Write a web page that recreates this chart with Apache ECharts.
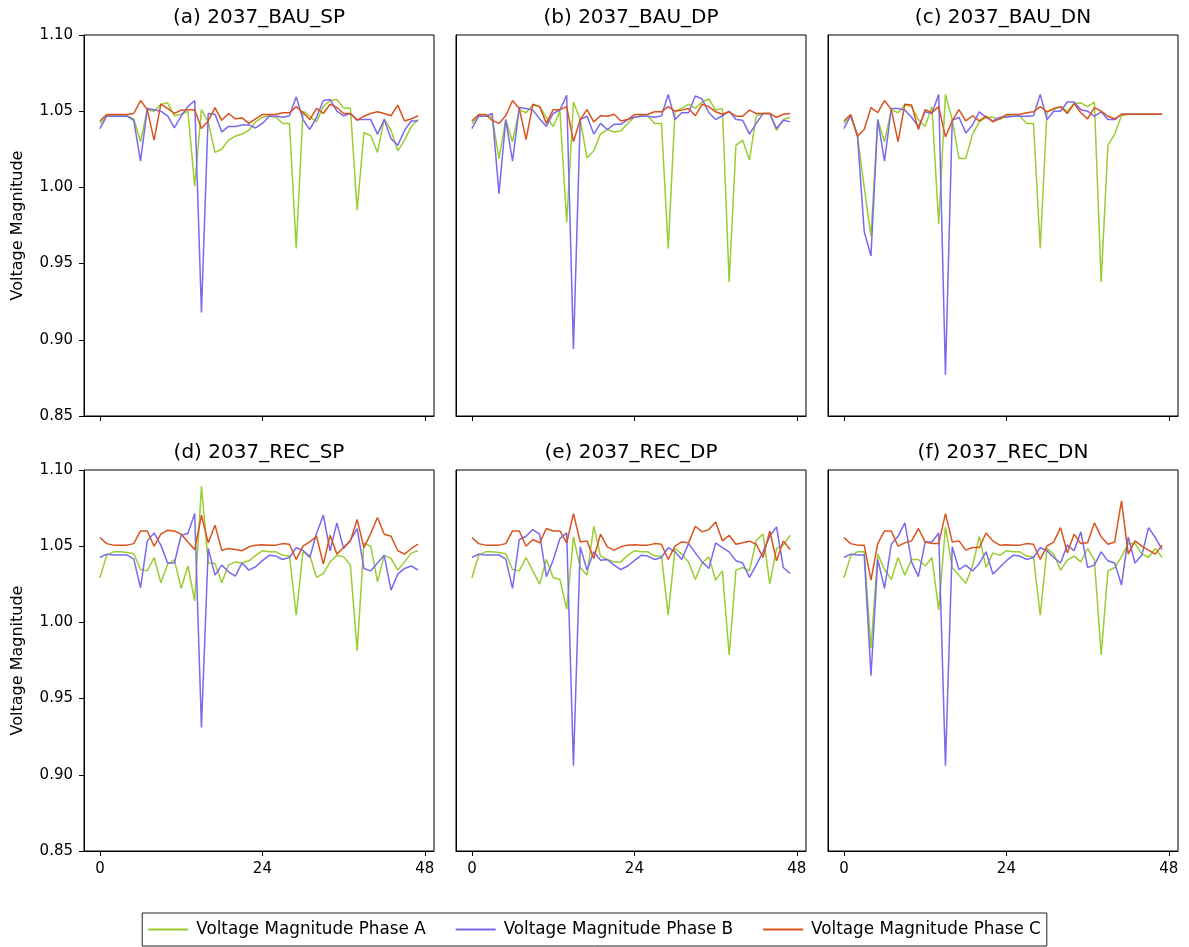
<!DOCTYPE html>
<html><head><meta charset="utf-8">
<script src="https://cdn.jsdelivr.net/npm/echarts@6/dist/echarts.min.js"></script>
<style>html,body{margin:0;padding:0;background:#fff}#c{width:1189px;height:947px}</style>
</head><body><div id="c"></div>
<script>
const panelTitles = ['(a) 2037_BAU_SP','(b) 2037_BAU_DP','(c) 2037_BAU_DN','(d) 2037_REC_SP','(e) 2037_REC_DP','(f) 2037_REC_DN'];
const seriesNames = ['Voltage Magnitude Phase A','Voltage Magnitude Phase B','Voltage Magnitude Phase C'];
const xTickValues = [0, 24, 48];
const yTickValues = [0.85, 0.90, 0.95, 1.00, 1.05, 1.10];

const a_A = [1.042,1.047,1.047,1.047,1.047,1.045,1.030,1.051,1.050,1.0546,1.0555,1.047,1.048,1.050,1.001,1.051,1.043,1.023,1.025,1.031,1.0336,1.035,1.0375,1.043,1.046,1.047,1.046,1.042,1.042,0.960,1.050,1.0467,1.043,1.053,1.057,1.0577,1.052,1.052,0.985,1.036,1.034,1.023,1.045,1.0375,1.024,1.031,1.040,1.0445];
const a_B = [1.0386,1.0467,1.0467,1.0467,1.0467,1.044,1.0173,1.0518,1.051,1.050,1.047,1.039,1.047,1.053,1.057,0.918,1.0485,1.048,1.0364,1.040,1.040,1.041,1.041,1.039,1.042,1.0467,1.0467,1.046,1.047,1.0594,1.0445,1.038,1.046,1.057,1.0577,1.050,1.047,1.0485,1.0445,1.0445,1.0445,1.035,1.0445,1.032,1.0276,1.0375,1.0436,1.0436];
const a_C = [1.0436,1.0478,1.0478,1.0478,1.0478,1.0485,1.057,1.051,1.031,1.0546,1.0518,1.0485,1.0507,1.051,1.051,1.0386,1.0436,1.0524,1.044,1.0485,1.045,1.0456,1.042,1.045,1.0478,1.0478,1.0478,1.049,1.049,1.053,1.049,1.0445,1.0518,1.0485,1.0546,1.0524,1.0485,1.0485,1.044,1.0467,1.0485,1.0496,1.0485,1.047,1.054,1.0436,1.045,1.047];

const b_A = [1.0419,1.047,1.0478,1.046,1.0189,1.0445,1.030,1.051,1.049,1.054,1.053,1.046,1.040,1.050,0.977,1.056,1.0445,1.0193,1.024,1.035,1.038,1.0364,1.037,1.042,1.046,1.047,1.0467,1.042,1.042,0.960,1.050,1.0518,1.0546,1.0518,1.056,1.058,1.0507,1.0518,0.938,1.0276,1.031,1.018,1.047,1.0485,1.0485,1.0375,1.0445,1.046];
const b_B = [1.0386,1.0467,1.0467,1.0485,0.9958,1.0445,1.0173,1.0524,1.0518,1.0507,1.045,1.040,1.0485,1.0507,1.0605,0.894,1.0445,1.0467,1.035,1.042,1.038,1.0414,1.0414,1.0445,1.046,1.0467,1.0467,1.046,1.047,1.061,1.0445,1.049,1.049,1.060,1.058,1.049,1.0445,1.047,1.050,1.0445,1.044,1.035,1.042,1.0485,1.0485,1.0386,1.044,1.043];
const b_C = [1.0436,1.0478,1.0478,1.044,1.042,1.047,1.057,1.0518,1.0314,1.0546,1.053,1.042,1.051,1.051,1.053,1.030,1.0445,1.051,1.043,1.047,1.0467,1.048,1.0436,1.0445,1.0478,1.0478,1.048,1.0496,1.0496,1.053,1.050,1.0507,1.0518,1.047,1.0546,1.053,1.0496,1.048,1.0496,1.0467,1.0467,1.0507,1.0485,1.0485,1.0485,1.046,1.048,1.0485];

const c_A = [1.0419,1.047,1.0342,1.000,0.968,1.0445,1.030,1.051,1.049,1.054,1.053,1.0445,1.040,1.053,0.976,1.061,1.0445,1.0189,1.0189,1.035,1.043,1.046,1.046,1.0445,1.047,1.0478,1.0467,1.042,1.042,0.960,1.050,1.051,1.053,1.050,1.055,1.0555,1.053,1.056,0.938,1.0276,1.035,1.047,1.048,1.048,1.048,1.048,1.048,1.048];
const c_B = [1.0386,1.047,1.0342,0.971,0.955,1.0445,1.0173,1.0518,1.0518,1.0507,1.046,1.0397,1.0496,1.0485,1.061,0.877,1.044,1.046,1.0357,1.041,1.0496,1.046,1.0436,1.046,1.046,1.0467,1.0467,1.0467,1.047,1.061,1.0445,1.050,1.050,1.056,1.056,1.051,1.050,1.0467,1.0496,1.0445,1.0445,1.048,1.048,1.048,1.048,1.048,1.048,1.048];
const c_C = [1.0436,1.0478,1.0336,1.038,1.0524,1.049,1.057,1.051,1.030,1.0546,1.054,1.038,1.051,1.049,1.053,1.0331,1.0436,1.051,1.0436,1.047,1.0436,1.0467,1.043,1.045,1.0478,1.0478,1.048,1.049,1.0496,1.053,1.0496,1.0518,1.053,1.0485,1.055,1.049,1.045,1.0524,1.050,1.0467,1.045,1.048,1.048,1.048,1.048,1.048,1.048,1.048];

const d_A = [1.0293,1.044,1.0463,1.0463,1.0459,1.045,1.0347,1.0338,1.0426,1.026,1.0382,1.041,1.0223,1.037,1.0142,1.0893,1.039,1.0387,1.026,1.0376,1.0397,1.039,1.0404,1.044,1.047,1.0463,1.0463,1.044,1.0435,1.0048,1.0463,1.044,1.0295,1.032,1.0397,1.044,1.043,1.0376,0.9815,1.052,1.050,1.0267,1.044,1.042,1.0343,1.0397,1.0456,1.047];
const d_B = [1.0426,1.0448,1.0443,1.0443,1.0443,1.0415,1.0227,1.0535,1.0587,1.0507,1.039,1.039,1.0572,1.0583,1.0714,0.931,1.0485,1.031,1.0376,1.0332,1.0304,1.039,1.0343,1.0365,1.0405,1.044,1.0435,1.0413,1.0426,1.049,1.0474,1.0426,1.0583,1.0703,1.047,1.0653,1.0485,1.054,1.0616,1.0354,1.0338,1.039,1.044,1.0212,1.0317,1.0354,1.037,1.0343];
const d_C = [1.0557,1.0517,1.0507,1.0507,1.0507,1.0517,1.060,1.060,1.050,1.0579,1.0605,1.060,1.0579,1.0528,1.0478,1.0703,1.0522,1.0638,1.0474,1.0485,1.0478,1.047,1.0496,1.0507,1.051,1.0507,1.0507,1.0517,1.0513,1.0413,1.050,1.0528,1.0565,1.0382,1.0572,1.0448,1.0491,1.0535,1.0675,1.0491,1.0583,1.0688,1.0579,1.0565,1.047,1.0448,1.0485,1.0513];

const e_A = [1.0293,1.044,1.0463,1.0463,1.0459,1.045,1.0347,1.0338,1.0426,1.0338,1.0251,1.0413,1.0295,1.0282,1.0086,1.0561,1.036,1.031,1.0631,1.0435,1.0413,1.0397,1.0397,1.044,1.047,1.0463,1.0463,1.0435,1.0435,1.0048,1.0485,1.0448,1.0397,1.0282,1.039,1.043,1.0278,1.0338,0.9787,1.0343,1.036,1.0338,1.0539,1.0579,1.0251,1.0485,1.0507,1.0572];
const e_B = [1.0426,1.0448,1.0443,1.0443,1.0443,1.0415,1.0223,1.0544,1.0565,1.0609,1.0579,1.030,1.0408,1.055,1.0587,0.906,1.0496,1.0343,1.0463,1.0408,1.0413,1.0376,1.0347,1.037,1.0405,1.044,1.0435,1.0413,1.0426,1.049,1.0463,1.0413,1.0517,1.0456,1.0397,1.0354,1.0522,1.0491,1.0463,1.0404,1.039,1.0295,1.0376,1.0463,1.0565,1.0627,1.036,1.0321];
const e_C = [1.0557,1.0517,1.0507,1.0507,1.0507,1.0517,1.060,1.060,1.050,1.0544,1.0522,1.0616,1.060,1.060,1.0522,1.0714,1.0528,1.0535,1.0419,1.0579,1.0496,1.0474,1.0496,1.0507,1.051,1.0507,1.0507,1.0517,1.0513,1.0413,1.050,1.0528,1.0522,1.0631,1.0594,1.0609,1.0659,1.0535,1.0572,1.0513,1.0522,1.0533,1.0513,1.0426,1.060,1.0404,1.0535,1.0478];

const f_A = [1.0293,1.0435,1.0463,1.0463,0.983,1.0448,1.0347,1.0282,1.0426,1.031,1.0413,1.0413,1.037,1.0426,1.0081,1.0627,1.036,1.031,1.0256,1.037,1.0565,1.036,1.0456,1.044,1.047,1.0463,1.0463,1.0435,1.043,1.0048,1.0485,1.0448,1.0343,1.0408,1.0435,1.0397,1.0485,1.0408,0.9787,1.0338,1.036,1.043,1.0517,1.0517,1.045,1.0426,1.0485,1.0426];
const f_B = [1.0426,1.0448,1.0443,1.0443,0.965,1.0413,1.0223,1.0513,1.0565,1.0653,1.0397,1.030,1.0528,1.0528,1.0587,0.906,1.0496,1.0347,1.0376,1.0338,1.0387,1.0463,1.0317,1.036,1.0405,1.044,1.0435,1.0413,1.0426,1.049,1.047,1.0426,1.039,1.0507,1.047,1.0594,1.036,1.0376,1.0463,1.0404,1.039,1.0245,1.0561,1.039,1.044,1.0622,1.0557,1.0478];
const f_C = [1.0557,1.0517,1.0507,1.0507,1.0278,1.0517,1.060,1.060,1.050,1.0522,1.0535,1.0616,1.0528,1.0517,1.0517,1.0714,1.0528,1.0535,1.0474,1.0491,1.0491,1.0587,1.0535,1.0507,1.051,1.0507,1.0507,1.0517,1.0513,1.0413,1.050,1.0528,1.0622,1.0456,1.0579,1.0517,1.0522,1.0653,1.0561,1.0513,1.0528,1.0797,1.0448,1.0535,1.050,1.0474,1.0448,1.0507];

const panelData = [[a_A,a_B,a_C],[b_A,b_B,b_C],[c_A,c_B,c_C],[d_A,d_B,d_C],[e_A,e_B,e_C],[f_A,f_B,f_C]];

const colors = ['#9acd32','#7b68ee','#d9531e'];
const FONT = 'DejaVu Sans';
const lefts = [84, 456, 828];
const tops = [35, 470];
const W = 350, H = 381;

const grids = [], xAxes = [], yAxes = [], series = [], graphics = [];
for (let p = 0; p < 6; p++) {
  const col = p % 3, row = Math.floor(p / 3);
  grids.push({left: lefts[col], top: tops[row], width: W, height: H, show: true, borderColor: '#000', borderWidth: 1, backgroundColor: '#fff', containLabel: false});
  xAxes.push({
    type: 'value', gridIndex: p, min: -2.35, max: 49.35,
    splitLine: {show: false},
    axisLine: {show: true, onZero: false, lineStyle: {color: '#000', width: 1}},
    axisTick: {show: true, customValues: xTickValues, length: 5, lineStyle: {color: '#000'}},
    axisLabel: {show: row === 1, customValues: xTickValues, color: '#000', fontSize: 15, fontFamily: FONT, margin: 11}
  });
  yAxes.push({
    type: 'value', gridIndex: p, min: 0.85, max: 1.10,
    splitLine: {show: false},
    axisLine: {show: true, onZero: false, lineStyle: {color: '#000', width: 1}},
    axisTick: {show: col === 0, customValues: yTickValues, length: 5, lineStyle: {color: '#000'}},
    axisLabel: {show: col === 0, customValues: yTickValues, color: '#000', fontSize: 15, fontFamily: FONT, margin: 11, formatter: v => v.toFixed(2)},
    name: col === 0 ? 'Voltage Magnitude' : '', nameLocation: 'middle', nameGap: 58, nameRotate: 90,
    nameTextStyle: {color: '#000', fontSize: 16, fontFamily: FONT}
  });
  for (let s = 0; s < 3; s++) {
    series.push({
      type: 'line', name: seriesNames[s], xAxisIndex: p, yAxisIndex: p,
      data: panelData[p][s].map((v, i) => [i, v]),
      showSymbol: false, symbol: 'none', silent: true, animation: false,
      lineStyle: {color: colors[s], width: 1.5}, itemStyle: {color: colors[s]}
    });
  }
  graphics.push({type: 'text', x: lefts[col] + W / 2, y: tops[row] - 17, style: {text: panelTitles[p], fill: '#000', font: '20px "DejaVu Sans"', textAlign: 'center', textVerticalAlign: 'middle'}});
}

const chart = echarts.init(document.getElementById('c'), null, {renderer: 'canvas'});
chart.setOption({
  animation: false,
  backgroundColor: '#fff',
  grid: grids, xAxis: xAxes, yAxis: yAxes, series: series, graphic: graphics,
  legend: {
    data: seriesNames, bottom: 1, left: 'center',
    icon: 'rect', itemWidth: 40, itemHeight: 2, itemGap: 30,
    borderColor: '#222', borderWidth: 1, padding: [8, 6, 8, 6],
    textStyle: {color: '#000', fontSize: 16.8, fontFamily: FONT, padding: [0, 0, 0, 3]}
  }
});
</script></body></html>
